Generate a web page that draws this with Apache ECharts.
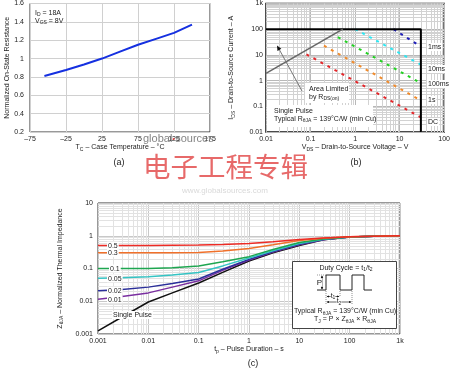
<!DOCTYPE html>
<html><head><meta charset="utf-8">
<script src="https://cdn.jsdelivr.net/npm/echarts@6/dist/echarts.min.js"></script>
<style>html,body{margin:0;padding:0;background:#fff}#c{width:453px;height:369px}</style>
</head><body><div id="c"></div>
<script>
// ---------- (a) Normalized on-state resistance vs case temperature ----------
const tempC   = [-55, -25, 0, 25, 50, 75, 100, 125, 150];
const rdsNorm = [0.81, 0.875, 0.935, 1.0, 1.075, 1.15, 1.215, 1.28, 1.37];
const aXMin = -75, aXMax = 175, aXStep = 50;
const aYMin = 0.2, aYMax = 1.6, aYStep = 0.2;

// ---------- (b) Safe operating area ----------
const soaBox   = [[0.01, 100], [30, 100], [30, 0.01]];
const rdsLine  = [[0.01, 1.9], [0.53, 100]];
const soaNames = ['1ms', '10ms', '100ms', '1s', 'DC'];
const soa1ms   = [[7.3, 100], [30, 21]];
const soa10ms  = [[1.0, 100], [30, 4.2]];
const soa100ms = [[0.41, 49], [25, 0.95]];
const soa1s    = [[0.2, 23], [25, 0.2]];
const soaDC    = [[0.081, 10.5], [30, 0.037]];

// ---------- (c) Transient thermal impedance ----------
const tp     = [0.001, 0.003, 0.01, 0.03, 0.1, 0.3, 1, 3, 10, 30, 100, 300, 1000];
const zD05   = [0.5, 0.5, 0.5, 0.51, 0.52, 0.54, 0.58, 0.66, 0.77, 0.86, 0.93, 0.97, 1.0];
const zD03   = [0.3, 0.3, 0.3, 0.305, 0.31, 0.34, 0.41, 0.53, 0.72, 0.84, 0.93, 0.97, 1.0];
const zD01   = [0.1, 0.1, 0.1, 0.105, 0.12, 0.16, 0.23, 0.38, 0.62, 0.8, 0.92, 0.97, 1.0];
const zD005  = [0.05, 0.052, 0.056, 0.063, 0.076, 0.12, 0.21, 0.35, 0.58, 0.78, 0.92, 0.97, 1.0];
const zD002  = [0.021, 0.023, 0.027, 0.035, 0.048, 0.095, 0.19, 0.33, 0.55, 0.77, 0.92, 0.97, 1.0];
const zD001  = [0.0115, 0.014, 0.018, 0.027, 0.042, 0.088, 0.18, 0.32, 0.53, 0.76, 0.92, 0.97, 1.0];
const zSingle= [0.00125, 0.0033, 0.0095, 0.018, 0.036, 0.076, 0.17, 0.3, 0.5, 0.75, 0.92, 0.97, 1.0];
const zLabels = ['0.5', '0.3', '0.1', '0.05', '0.02', '0.01', 'Single Pulse'];

const F = '"Liberation Sans", Arial, Helvetica, sans-serif';
const TC = '#222';
const richA = {
  n: {fontFamily: F, fontSize: 7, color: TC, fill: TC},
  s: {fontFamily: F, fontSize: 5, color: TC, fill: TC, padding: [4, 0, 0, 0]}
};

function fmtNum(v) {
  const x = parseFloat((+v).toPrecision(6));
  if (x >= 1000) return (x / 1000) + 'k';
  return String(x).replace('-', '\u2013');
}
function minorVals(lo, hi) {
  const out = [];
  for (let e = Math.round(Math.log10(lo)); e < Math.round(Math.log10(hi)); e++)
    for (let k = 2; k <= 9; k++) out.push(parseFloat((k * Math.pow(10, e)).toPrecision(3)));
  return out;
}
function gridSeries(idx, xVals, yVals, xMin, yMin, color) {
  const data = xVals.map(v => [v, yMin, 0]).concat(yVals.map(v => [xMin, v, 1]));
  return {
    type: 'custom', xAxisIndex: idx, yAxisIndex: idx, silent: true, z: 1,
    encode: {x: 0, y: 1}, data,
    renderItem(params, api) {
      const cs = params.coordSys;
      const p = api.coord([api.value(0), api.value(1)]);
      const vert = api.value(2) === 0;
      const xx = Math.round(p[0]) + 0.5, yy = Math.round(p[1]) + 0.5;
      return {type: 'line',
        shape: vert ? {x1: xx, y1: cs.y, x2: xx, y2: cs.y + cs.height}
                    : {x1: cs.x, y1: yy, x2: cs.x + cs.width, y2: yy},
        style: {stroke: color, lineWidth: 1}};
    }
  };
}
function axisCommon(extra) {
  return Object.assign({
    axisTick: {show: false},
    axisLine: {show: false},
    axisLabel: {fontFamily: F, fontSize: 7, color: TC, formatter: fmtNum},
    nameLocation: 'middle',
    nameTextStyle: {fontFamily: F, fontSize: 7, color: TC, rich: richA}
  }, extra);
}

const chart = echarts.init(document.getElementById('c'), null, {renderer: 'canvas'});

const soaColors = ['#1f1fb8', '#2ee6f2', '#22d022', '#f08a2a', '#e4262a'];
const soaSets = [soa1ms, soa10ms, soa100ms, soa1s, soaDC];
const zSets = [zD05, zD03, zD01, zD005, zD002, zD001, zSingle];
const zColors = ['#ec2b25', '#f0702a', '#1ea650', '#34c4c4', '#2b2f9a', '#7a2fa0', '#111111'];

const series = [];
// (a)
series.push({type: 'line', xAxisIndex: 0, yAxisIndex: 0, symbol: 'none', smooth: false, z: 3,
  lineStyle: {color: '#1530e0', width: 2}, data: tempC.map((t, i) => [t, rdsNorm[i]])});
// (b)
series.push(gridSeries(1, minorVals(0.01, 100), minorVals(0.01, 1000), 0.01, 0.01, '#d2d2d2'));
series.push({type: 'line', xAxisIndex: 1, yAxisIndex: 1, symbol: 'none', z: 4,
  lineStyle: {color: '#000', width: 2}, data: soaBox});
series.push({type: 'line', xAxisIndex: 1, yAxisIndex: 1, symbol: 'none', z: 4,
  lineStyle: {color: '#666', width: 1.5}, data: rdsLine});
soaSets.forEach((d, i) => series.push({type: 'line', name: soaNames[i], xAxisIndex: 1, yAxisIndex: 1,
  symbol: 'none', z: 3, lineStyle: {color: soaColors[i], width: 2, type: [3, 5]}, data: d}));
// (c)
series.push(gridSeries(2, minorVals(0.001, 1000), minorVals(0.001, 10), 0.001, 0.001, '#e2e2e2'));
zSets.forEach((d, i) => series.push({type: 'line', name: zLabels[i], xAxisIndex: 2, yAxisIndex: 2,
  symbol: 'none', smooth: false, z: 3 + (7 - i), lineStyle: {color: zColors[i], width: 1.5},
  data: tp.map((t, j) => [t, d[j]])}));

chart.setOption({
  animation: false,
  backgroundColor: '#fff',
  grid: [
    {left: 30, top: 3, width: 180, height: 129, show: true, borderColor: '#333', borderWidth: 1, backgroundColor: '#fff'},
    {left: 266, top: 3, width: 181, height: 129, show: true, borderColor: '#111', borderWidth: 1.5, backgroundColor: '#fff'},
    {left: 98, top: 203, width: 302, height: 131, show: true, borderColor: '#333', borderWidth: 1, backgroundColor: '#fff'}
  ],
  xAxis: [
    axisCommon({gridIndex: 0, type: 'value', min: aXMin, max: aXMax, interval: aXStep,
      splitLine: {lineStyle: {color: '#d0d0d0'}},
      axisLabel: {fontFamily: F, fontSize: 7, color: TC, formatter: fmtNum, margin: 4},
      name: '{n|T}{s|C}{n| \u2013 Case Temperature \u2013 \u00B0C}', nameGap: 11}),
    axisCommon({gridIndex: 1, type: 'log', logBase: 10, min: 0.01, max: 100,
      splitLine: {lineStyle: {color: '#b8b8b8'}},
      axisLabel: {fontFamily: F, fontSize: 7, color: TC, formatter: fmtNum, margin: 4},
      name: '{n|V}{s|DS}{n| \u2013 Drain-to-Source Voltage \u2013 V}', nameGap: 11}),
    axisCommon({gridIndex: 2, type: 'log', logBase: 10, min: 0.001, max: 1000,
      splitLine: {lineStyle: {color: '#c8c8c8'}},
      axisLabel: {fontFamily: F, fontSize: 7, color: TC, formatter: fmtNum, margin: 4},
      name: '{n|t}{s|p}{n| \u2013 Pulse Duration \u2013 s}', nameGap: 11})
  ],
  yAxis: [
    axisCommon({gridIndex: 0, type: 'value', min: aYMin, max: aYMax, interval: aYStep,
      splitLine: {lineStyle: {color: '#d0d0d0'}},
      axisLabel: {fontFamily: F, fontSize: 7, color: TC, formatter: fmtNum, margin: 6},
      name: 'Normalized On-State Resistance', nameRotate: 90, nameGap: 19}),
    axisCommon({gridIndex: 1, type: 'log', logBase: 10, min: 0.01, max: 1000,
      splitLine: {lineStyle: {color: '#b8b8b8'}},
      axisLabel: {fontFamily: F, fontSize: 7, color: TC, formatter: fmtNum, margin: 3},
      name: '{n|I}{s|DS}{n| \u2013 Drain-to-Source Current \u2013 A}', nameRotate: 90, nameGap: 30}),
    axisCommon({gridIndex: 2, type: 'log', logBase: 10, min: 0.001, max: 10,
      splitLine: {lineStyle: {color: '#c8c8c8'}},
      axisLabel: {fontFamily: F, fontSize: 7, color: TC, formatter: fmtNum, margin: 5},
      name: '{n|Z}{s|\u03B8JA}{n| \u2013 Normalized Thermal Impedance}', nameRotate: 90, nameGap: 28})
  ],
  series
});

// ---------- annotations ----------
function txt(x, y, text, o) {
  o = o || {};
  return {type: 'text', x, y, z: o.z || 60, silent: true, style: Object.assign({
    text, fontFamily: F, fontSize: 7, fill: TC, align: 'left', verticalAlign: 'middle', rich: richA
  }, o.style || {})};
}
function line(x1, y1, x2, y2, stroke, w, dash) {
  return {type: 'line', z: 60, silent: true, shape: {x1, y1, x2, y2},
    style: {stroke, lineWidth: w || 1, lineDash: dash || null}};
}
function arrowHead(tx, ty, fx, fy, len, half, fill) {
  const dx = tx - fx, dy = ty - fy, L = Math.hypot(dx, dy), ux = dx / L, uy = dy / L;
  const bx = tx - ux * len, by = ty - uy * len;
  return {type: 'polygon', z: 61, silent: true,
    shape: {points: [[tx, ty], [bx - uy * half, by + ux * half], [bx + uy * half, by - ux * half]]},
    style: {fill: fill || '#111'}};
}

const g = [];
// (a) conditions
g.push(txt(35, 13, '{n|I}{s|D}{n| = 18A}'));
g.push(txt(35, 21, '{n|V}{s|GS}{n| = 8V}'));
// (b) boxes and notes
g.push({type: 'rect', z: 55, silent: true, shape: {x: 267, y: 105, width: 106, height: 22}, style: {fill: '#fff'}});
g.push(txt(274, 111, 'Single Pulse'));
g.push(txt(274, 119, '{n|Typical R}{s|\u03B8JA}{n| = 139\u00B0C/W (min Cu)}'));
g.push({type: 'rect', z: 55, silent: true, shape: {x: 305, y: 83, width: 44, height: 20}, style: {fill: '#fff'}});
g.push(txt(309, 89, 'Area Limited'));
g.push(txt(309, 97, '{n|by R}{s|DS(on)}'));
g.push(line(302, 91, 279, 49, '#777', 1));
g.push(arrowHead(277, 45.5, 302, 91, 5, 2.2, '#111'));
const soaLabelY = [47, 69, 84, 100, 122];
soaNames.forEach((s, i) => g.push(txt(427, soaLabelY[i], s,
  {style: {backgroundColor: '#fff', padding: [1, 1, 0, 1]}})));
// (c) inset
g.push({type: 'rect', z: 55, silent: true, shape: {x: 292.5, y: 261.5, width: 104, height: 67},
  style: {fill: '#fff', stroke: '#444', lineWidth: 1}});
g.push(txt(346, 268, '{n|Duty Cycle = t}{s|1}{n|/t}{s|2}', {style: {align: 'center'}}));
g.push({type: 'polyline', z: 60, silent: true,
  shape: {points: [[317, 290], [326, 290], [326, 275], [340, 275], [340, 290], [352, 290], [352, 275], [364, 275], [364, 290], [372, 290]]},
  style: {stroke: '#222', lineWidth: 1, fill: null}});
g.push(line(317, 275, 326, 275, '#555', 0.6, [1, 1]));
g.push(line(322, 276, 322, 289, '#222', 0.8));
g.push(arrowHead(322, 275.5, 322, 282, 2.5, 1.2));
g.push(arrowHead(322, 289.5, 322, 282, 2.5, 1.2));
g.push(txt(319.5, 282.5, 'P', {style: {align: 'center', fontSize: 8, backgroundColor: '#fff'}}));
g.push(line(326, 291, 326, 304, '#444', 0.6, [1, 1]));
g.push(line(340, 291, 340, 299, '#444', 0.6, [1, 1]));
g.push(line(352, 291, 352, 304, '#444', 0.6, [1, 1]));
g.push(line(327, 296.5, 339, 296.5, '#222', 0.7));
g.push(arrowHead(326.5, 296.5, 333, 296.5, 2.5, 1.1));
g.push(arrowHead(339.5, 296.5, 333, 296.5, 2.5, 1.1));
g.push(line(327, 302, 351, 302, '#222', 0.7));
g.push(arrowHead(326.5, 302, 339, 302, 2.5, 1.1));
g.push(arrowHead(351.5, 302, 339, 302, 2.5, 1.1));
g.push(txt(333, 296, '{n|t}{s|1}', {style: {align: 'center', backgroundColor: '#fff'}}));
g.push(txt(339, 301.5, '{n|t}{s|2}', {style: {align: 'center', backgroundColor: '#fff'}}));
g.push(txt(345, 311.5, '{n|Typical R}{s|\u03B8JA}{n| = 139\u00B0C/W (min Cu)}', {style: {align: 'center'}}));
g.push(txt(345, 319.5, '{n|T}{s|J}{n| = P \u00D7 Z}{s|\u03B8JA}{n| \u00D7 R}{s|\u03B8JA}', {style: {align: 'center'}}));
// (c) curve labels
zLabels.forEach((s, i) => {
  if (i === 6) return;
  const p = chart.convertToPixel({gridIndex: 2}, [0.001, zSets[i][0]]);
  g.push(txt(i === 2 ? 109 : 107, p[1], s, {style: {backgroundColor: '#fff', padding: [1, 1, 0, 1]}}));
});
g.push(txt(112, 315, 'Single Pulse', {style: {backgroundColor: '#fff', padding: [1, 1, 0, 1]}}));
// captions
g.push(txt(119, 163, '(a)', {style: {align: 'center', fontSize: 9}}));
g.push(txt(356, 163, '(b)', {style: {align: 'center', fontSize: 9}}));
g.push(txt(253, 364, '(c)', {style: {align: 'center', fontSize: 9}}));
// watermarks
g.push(txt(143, 167, '电子工程专辑', {z: 70, style: {fontFamily: '"Noto Sans CJK SC", sans-serif', fontSize: 27.5, fill: 'rgba(228,84,84,0.88)'}}));
g.push(txt(143, 139, '{g|global}{d|\u2022}{g|sources}', {z: 70, style: {rich: {
  g: {fontFamily: F, fontSize: 11, fill: 'rgba(110,110,110,0.85)'},
  d: {fontFamily: F, fontSize: 8, fill: 'rgba(220,60,60,0.9)'}}}}));
g.push(txt(225, 191, 'www.globalsources.com', {z: 70, style: {align: 'center', fontSize: 8, fill: '#d9d9d9'}}));

chart.setOption({graphic: {elements: g}});
</script></body></html>
